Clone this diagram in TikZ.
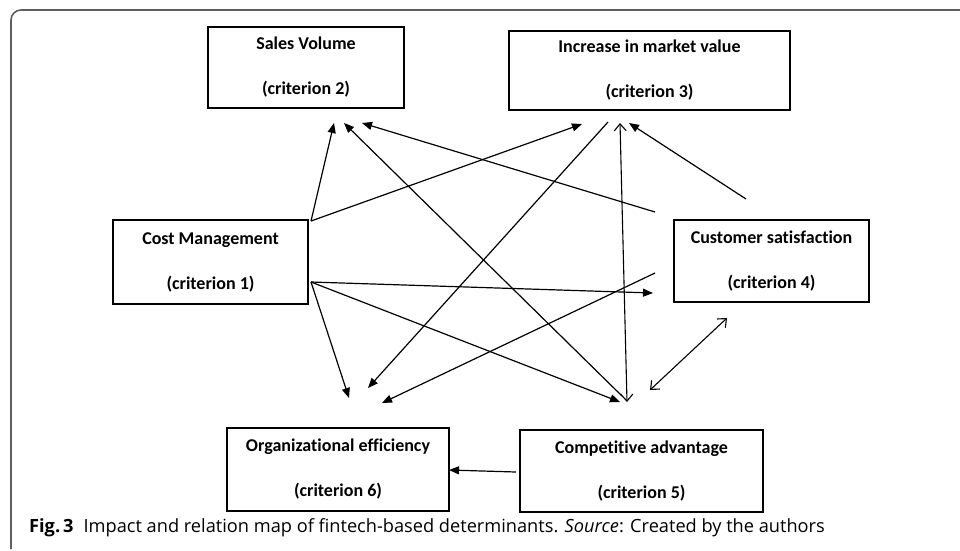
\documentclass[tikz,border=0pt]{standalone}
\usepackage{fontspec}
\setmainfont{Carlito}[Ligatures=NoCommon]
\newfontfamily\capfont{Open Sans}
\usetikzlibrary{arrows.meta}
\definecolor{framegray}{RGB}{95,95,95}
\begin{document}
\begin{tikzpicture}[x=1pt,y=-1pt,
  crit/.style={draw, line width=1.3pt, align=center, inner sep=0pt,
    font=\fontsize{18}{45}\selectfont\bfseries,
    execute at begin node={\rule{0pt}{18pt}}},
  conn/.style={line width=1.2pt, -{Triangle[length=10pt,width=8pt]}},
  openconn/.style={line width=1.1pt, {Straight Barb[length=7pt,width=12pt]}-{Straight Barb[length=7pt,width=12pt]}},
  framestyle/.style={draw=framegray, line width=1.6pt, rounded corners=10pt}]
\useasboundingbox (0,0) rectangle (960,550);
\fill[white] (0,0) rectangle (960,550);
\draw[framestyle] (11,549) -- (11,10) -- (962,10);

% criteria boxes
\node[crit, minimum width=195pt, minimum height=84pt] (c1) at (210.5,262) {Cost Management\\(criterion 1)};
\node[crit, minimum width=196pt, minimum height=81pt, execute at begin node={\rule{0pt}{22pt}}] (c2) at (306,67.5) {Sales Volume\\(criterion 2)};
\node[crit, minimum width=281pt, minimum height=79pt] (c3) at (649.5,70.5) {Increase in market value\\(criterion 3)};
\node[crit, minimum width=195pt, minimum height=82pt] (c4) at (771.5,261) {Customer satisfaction\\(criterion 4)};
\node[crit, minimum width=243pt, minimum height=82pt] (c5) at (641.5,471) {Competitive advantage\\(criterion 5)};
\node[crit, minimum width=222pt, minimum height=83pt] (c6) at (338,469.5) {Organizational efficiency\\(criterion 6)};

% free connector ends
\coordinate (a1) at (311,221);
\coordinate (a2) at (311,282);
\coordinate (sv1) at (334,123);
\coordinate (sv2) at (344,123);
\coordinate (sv3) at (362,123);
\coordinate (imv1) at (582,124);
\coordinate (imv2) at (608,122);
\coordinate (imv3) at (620,123);
\coordinate (imv4) at (629,123);
\coordinate (cs1) at (655,212);
\coordinate (cs2) at (746,199);
\coordinate (cs3) at (653,293);
\coordinate (cs4) at (655,273);
\coordinate (cs5) at (727,318);
\coordinate (ca1) at (622,396);
\coordinate (ca2) at (620,402);
\coordinate (ca3) at (627,402);
\coordinate (ca4) at (650,390);
\coordinate (ca5) at (516,472);
\coordinate (oe1) at (349,398);
\coordinate (oe2) at (368,388);
\coordinate (oe3) at (382,403);
\coordinate (oe4) at (449,470);

% connectors
\draw[conn] (a1) -- (sv1);
\draw[conn] (a1) -- (imv1);
\draw[conn] (cs1) -- (sv3);
\draw[conn] (ca1) -- (sv2);
\draw[conn] (imv2) -- (oe2);
\draw[openconn] (ca3) -- (imv3);
\draw[conn] (cs2) -- (imv4);
\draw[conn] (a2) -- (cs3);
\draw[conn] (a2) -- (oe1);
\draw[conn] (a2) -- (ca2);
\draw[conn] (cs4) -- (oe3);
\draw[openconn] (ca4) -- (cs5);
\draw[conn] (ca5) -- (oe4);

% caption
\node[anchor=base west, inner sep=0pt, font=\capfont\fontsize{18.2}{20}\selectfont] (cap) at (29,532.5)
  {\textbf{Fig.\,3}\hspace{0.55em}Impact and relation map of fintech-based determinants. \textit{Source}: Created by the authors};
\end{tikzpicture}
\end{document}
